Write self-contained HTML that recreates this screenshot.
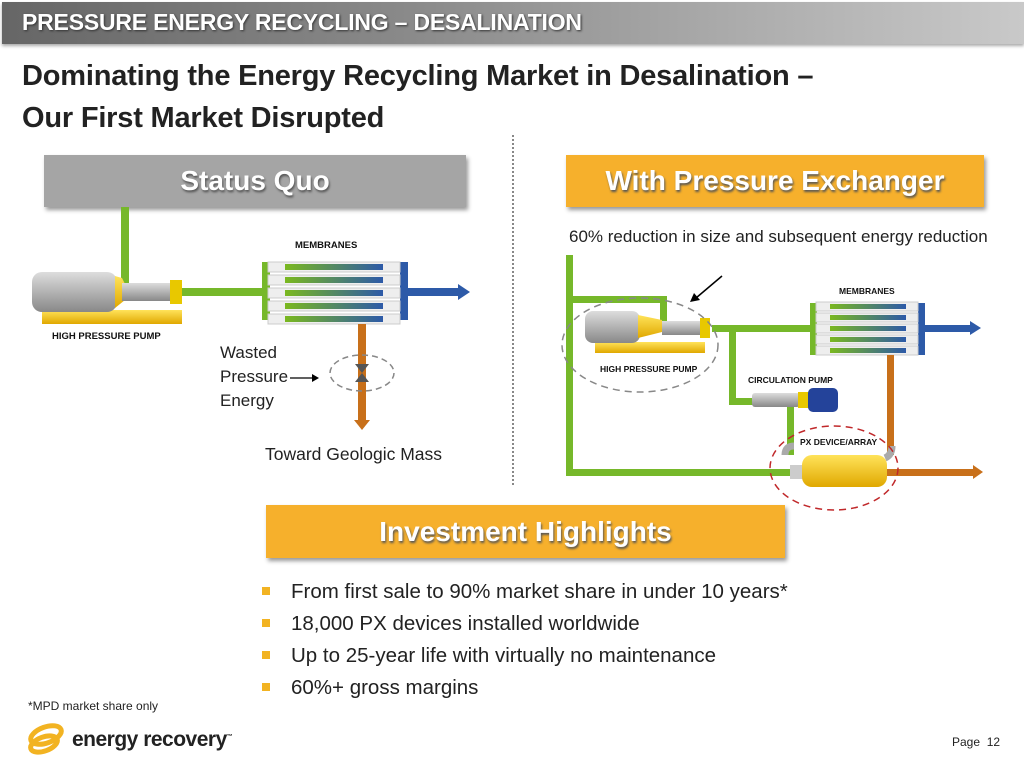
<!DOCTYPE html>
<html><head><meta charset="utf-8"><style>
body{margin:0;width:1024px;height:768px;background:#fff;position:relative;overflow:hidden;font-family:"Liberation Sans",sans-serif}
.a{position:absolute}
.hdr{left:2px;top:2px;width:1022px;height:42px;background:linear-gradient(90deg,#666 0%,#8a8a8a 40%,#c9c9c9 100%);box-shadow:0 2px 3px #aaa}
.hdr span{position:absolute;left:20px;top:7px;color:#fff;font-weight:bold;font-size:23px;letter-spacing:-0.2px;text-shadow:1px 1px 2px #333}
.t{left:22px;font-weight:bold;font-size:29px;color:#222;letter-spacing:-0.2px}
.box{color:#fff;font-weight:bold;font-size:28px;text-align:center;text-shadow:1px 2px 2px #555;box-shadow:2px 3px 4px #999}
.bl{left:262px;font-size:20.5px;color:#222}
.bl i{position:absolute;left:0;top:7px;width:8px;height:8px;background:#f2b322}
.bl span{position:absolute;left:29px;white-space:nowrap}
.lbl{font-weight:bold;font-size:9.5px;color:#111;white-space:nowrap}
</style></head><body>
<div class="a hdr"><span>PRESSURE ENERGY RECYCLING – DESALINATION</span></div>
<div class="a t" style="top:60px">Dominating the Energy Recycling Market in Desalination –</div>
<div class="a t" style="top:102px">Our First Market Disrupted</div>
<div class="a" style="left:512px;top:135px;height:350px;border-left:2px dotted #888"></div>
<div class="a box" style="left:44px;top:155px;width:422px;height:52px;line-height:52px;background:#a5a5a5">Status Quo</div>
<div class="a box" style="left:566px;top:155px;width:418px;height:52px;line-height:52px;background:#f6b02c">With Pressure Exchanger</div>
<div class="a box" style="left:266px;top:505px;width:519px;height:53px;line-height:53px;background:#f6b02c">Investment Highlights</div>

<svg class="a" style="left:0;top:0" width="1024" height="768">
<defs>
<linearGradient id="mem" x1="0" x2="1"><stop offset="0" stop-color="#7ab81f"/><stop offset="1" stop-color="#2d5aa8"/></linearGradient>
<linearGradient id="yel" x1="0" y1="0" x2="0" y2="1"><stop offset="0" stop-color="#ffe35a"/><stop offset="1" stop-color="#e0a800"/></linearGradient>
<linearGradient id="gry" x1="0" y1="0" x2="0" y2="1"><stop offset="0" stop-color="#ddd"/><stop offset="1" stop-color="#888"/></linearGradient>
</defs>
<g fill="#76b82a">
<rect x="121" y="207" width="8" height="85"/>
<rect x="180" y="288" width="84" height="8"/>
<rect x="262" y="262" width="8" height="58"/>
</g>
<g fill="#2d5aa8"><rect x="400" y="262" width="8" height="58"/><rect x="400" y="288" width="60" height="8"/><polygon points="458,284 470,292 458,300"/></g>
<g>
<rect x="268" y="262" width="132" height="10" fill="#eee" stroke="#ccc"/><rect x="285" y="264" width="98" height="6" fill="url(#mem)"/>
<rect x="268" y="275" width="132" height="10" fill="#eee" stroke="#ccc"/><rect x="285" y="277" width="98" height="6" fill="url(#mem)"/>
<rect x="268" y="288" width="132" height="10" fill="#eee" stroke="#ccc"/><rect x="285" y="290" width="98" height="6" fill="url(#mem)"/>
<rect x="268" y="301" width="132" height="10" fill="#eee" stroke="#ccc"/><rect x="285" y="303" width="98" height="6" fill="url(#mem)"/>
<rect x="268" y="314" width="132" height="10" fill="#eee" stroke="#ccc"/><rect x="285" y="316" width="98" height="6" fill="url(#mem)"/>
</g>
<g fill="#c8701a"><rect x="358" y="324" width="8" height="98"/><polygon points="354,420 370,420 362,430"/></g>
<polygon points="355,364 369,364 362,373" fill="#555"/><polygon points="355,382 369,382 362,373" fill="#555"/>
<ellipse cx="362" cy="373" rx="32" ry="18" fill="none" stroke="#888" stroke-width="1.5" stroke-dasharray="6,4"/>
<line x1="290" y1="378" x2="312" y2="378" stroke="#000" stroke-width="1.2"/><polygon points="312,374 319,378 312,382"/>
<rect x="42" y="310" width="140" height="14" fill="url(#yel)"/>
<rect x="32" y="272" width="85" height="40" rx="10" fill="url(#gry)"/>
<polygon points="115,276 122,278 125,284 125,300 115,308" fill="url(#yel)"/>
<rect x="122" y="283" width="52" height="18" fill="url(#gry)"/>
<rect x="170" y="280" width="12" height="24" fill="#e8c800"/>
<g fill="#76b82a">
<rect x="566" y="255" width="7" height="220"/>
<rect x="566" y="296" width="100" height="7"/>
<rect x="660" y="296" width="7" height="30"/>
<rect x="712" y="325" width="102" height="7"/>
<rect x="729" y="325" width="7" height="80"/>
<rect x="729" y="398" width="25" height="7"/>
<rect x="787" y="405" width="7" height="50"/>
<rect x="566" y="469" width="225" height="7"/>
<rect x="810" y="303" width="7" height="52"/>
</g>
<g fill="#2d5aa8"><rect x="918" y="303" width="7" height="52"/><rect x="918" y="325" width="55" height="7"/><polygon points="970,321 981,328 970,335"/></g>
<g>
<rect x="816" y="302" width="102" height="9" fill="#eee" stroke="#ccc"/><rect x="830" y="304" width="76" height="5" fill="url(#mem)"/>
<rect x="816" y="313" width="102" height="9" fill="#eee" stroke="#ccc"/><rect x="830" y="315" width="76" height="5" fill="url(#mem)"/>
<rect x="816" y="324" width="102" height="9" fill="#eee" stroke="#ccc"/><rect x="830" y="326" width="76" height="5" fill="url(#mem)"/>
<rect x="816" y="335" width="102" height="9" fill="#eee" stroke="#ccc"/><rect x="830" y="337" width="76" height="5" fill="url(#mem)"/>
<rect x="816" y="346" width="102" height="9" fill="#eee" stroke="#ccc"/><rect x="830" y="348" width="76" height="5" fill="url(#mem)"/>
</g>
<g fill="#c8701a"><rect x="887" y="355" width="7" height="100"/><rect x="885" y="469" width="90" height="7"/><polygon points="973,465 983,472 973,479"/></g>
<rect x="595" y="342" width="110" height="11" fill="url(#yel)"/>
<rect x="585" y="311" width="55" height="32" rx="8" fill="url(#gry)"/>
<polygon points="638,315 662,320 662,332 638,338" fill="url(#yel)"/>
<rect x="662" y="321" width="42" height="14" fill="url(#gry)"/>
<rect x="700" y="318" width="10" height="20" fill="#e8c800"/>
<rect x="752" y="393" width="48" height="14" rx="3" fill="url(#gry)"/>
<rect x="798" y="392" width="12" height="16" fill="#e8c800"/>
<rect x="808" y="388" width="30" height="24" rx="5" fill="#24439a"/>
<path d="M785,455 Q785,446 794,446 M892,446 Q892,455 885,458" stroke="#aaa" stroke-width="7" fill="none"/>
<rect x="790" y="465" width="14" height="14" fill="#ccc"/>
<rect x="802" y="455" width="85" height="32" rx="10" fill="url(#yel)"/>
<ellipse cx="640" cy="345" rx="78" ry="47" fill="none" stroke="#888" stroke-width="1.5" stroke-dasharray="7,5"/>
<ellipse cx="834" cy="468" rx="64" ry="42" fill="none" stroke="#c0282a" stroke-width="1.5" stroke-dasharray="7,5"/>
<line x1="722" y1="276" x2="696" y2="298" stroke="#000" stroke-width="1.5"/><polygon points="690,302 694,293 700,300"/>
<g fill="none" stroke="#f2b322" stroke-width="5"><ellipse cx="46" cy="735" rx="16" ry="8" transform="rotate(-20 46 735)"/><ellipse cx="44" cy="744" rx="14" ry="7" transform="rotate(-20 44 744)"/></g>
</svg>

<div class="a lbl" style="left:295px;top:240px">MEMBRANES</div>
<div class="a lbl" style="left:52px;top:331px">HIGH PRESSURE PUMP</div>
<div class="a" style="left:220px;top:341px;font-size:17px;line-height:24px;color:#222">Wasted<br>Pressure<br>Energy</div>
<div class="a" style="left:265px;top:444px;font-size:17.5px;color:#222;white-space:nowrap">Toward Geologic Mass</div>
<div class="a" style="left:569px;top:227px;font-size:17px;color:#222;white-space:nowrap">60% reduction in size and subsequent energy reduction</div>
<div class="a lbl" style="left:839px;top:286px;font-size:8.5px">MEMBRANES</div>
<div class="a lbl" style="left:600px;top:364px;font-size:8.5px">HIGH PRESSURE PUMP</div>
<div class="a lbl" style="left:748px;top:375px;font-size:8.5px">CIRCULATION PUMP</div>
<div class="a lbl" style="left:800px;top:437px;font-size:8.5px">PX DEVICE/ARRAY</div>

<div class="a bl" style="top:580px"><i></i><span>From first sale to 90% market share in under 10 years*</span></div>
<div class="a bl" style="top:612px"><i></i><span>18,000 PX devices installed worldwide</span></div>
<div class="a bl" style="top:644px"><i></i><span>Up to 25-year life with virtually no maintenance</span></div>
<div class="a bl" style="top:676px"><i></i><span>60%+ gross margins</span></div>
<div class="a" style="left:28px;top:699px;font-size:12px;color:#222">*MPD market share only</div>
<div class="a" style="left:72px;top:728px;font-size:21px;font-weight:bold;color:#222;letter-spacing:-0.5px">energy recovery<sup style="font-size:6px">™</sup></div>
<div class="a" style="left:952px;top:735px;font-size:12px;color:#222">Page&nbsp;&nbsp;12</div>
</body></html>
